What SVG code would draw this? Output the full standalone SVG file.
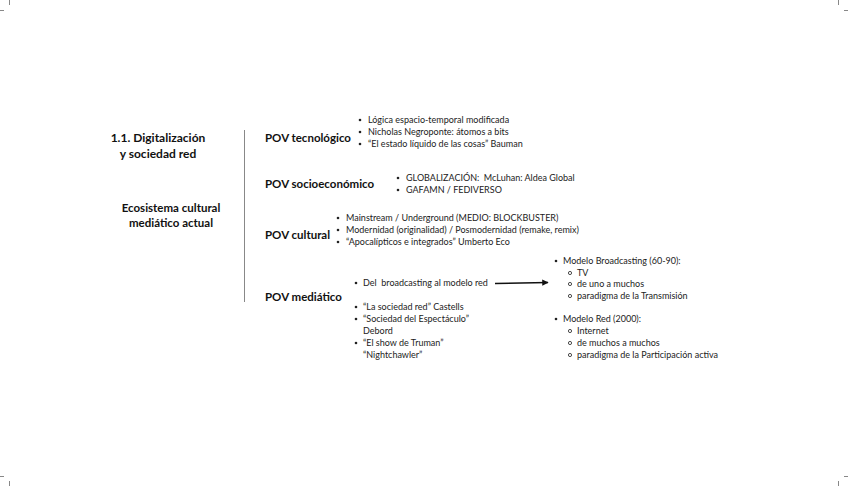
<svg xmlns="http://www.w3.org/2000/svg" width="848" height="486" viewBox="0 0 848 486">
<style>
.h{font-family:Lato,"Open Sans",sans-serif;font-weight:bold;font-size:11.5px;fill:#111}
.ti{font-size:12px}
.t{font-family:Lato,"Open Sans",sans-serif;font-size:9px;fill:#222;white-space:pre}
.crop{stroke:#888;stroke-width:1}
.dot{fill:#222}
.ring{fill:none;stroke:#222;stroke-width:0.8}
</style>
<defs>
<marker id="ah" viewBox="0 0 10 10" refX="9" refY="5" markerWidth="4" markerHeight="4" orient="auto"><path d="M0,0 L10,5 L0,10 z" fill="#111"/></marker>
</defs>
<rect width="848" height="486" fill="#fff"/>
<g id="cropmarks">
<line class="crop" x1="9.5" y1="0" x2="9.5" y2="5"/><line class="crop" x1="0" y1="10.5" x2="4" y2="10.5"/>
<line class="crop" x1="838.5" y1="0" x2="838.5" y2="5"/><line class="crop" x1="844" y1="10.5" x2="848" y2="10.5"/>
<line class="crop" x1="0" y1="476.5" x2="4" y2="476.5"/><line class="crop" x1="9.5" y1="481" x2="9.5" y2="486"/>
<line class="crop" x1="844" y1="476.5" x2="848" y2="476.5"/><line class="crop" x1="838.5" y1="481" x2="838.5" y2="486"/>
</g>
<g id="title">
<text class="h ti" x="158" y="142" text-anchor="middle">1.1. Digitalización</text>
<text class="h ti" x="158" y="158" text-anchor="middle">y sociedad red</text>
</g>
<g id="ecosistema">
<text class="h" x="171" y="212" text-anchor="middle">Ecosistema cultural</text>
<text class="h" x="171" y="227" text-anchor="middle">mediático actual</text>
</g>
<g id="connectors">
<line x1="244.5" y1="130" x2="244.5" y2="302" stroke="#888" stroke-width="1"/>
<line x1="495" y1="283.5" x2="548" y2="282.5" stroke="#111" stroke-width="1.6" marker-end="url(#ah)"/>
</g>
<g id="pov-tecnologico">
<text class="h" x="265" y="142">POV tecnológico</text>
<circle class="dot" cx="360" cy="120" r="1.3"/><text class="t" x="368" y="123">Lógica espacio-temporal modificada</text>
<circle class="dot" cx="360" cy="132" r="1.3"/><text class="t" x="368" y="135">Nicholas Negroponte: átomos a bits</text>
<circle class="dot" cx="360" cy="144" r="1.3"/><text class="t" x="368" y="147">“El estado líquido de las cosas” Bauman</text>
</g>
<g id="pov-socioeconomico">
<text class="h" x="265" y="188">POV socioeconómico</text>
<circle class="dot" cx="398" cy="178" r="1.3"/><text class="t" x="406" y="181">GLOBALIZACIÓN:  McLuhan: Aldea Global</text>
<circle class="dot" cx="398" cy="190" r="1.3"/><text class="t" x="406" y="193">GAFAMN / FEDIVERSO</text>
</g>
<g id="pov-cultural">
<text class="h" x="265" y="239">POV cultural</text>
<circle class="dot" cx="338" cy="218" r="1.3"/><text class="t" x="346" y="221">Mainstream / Underground (MEDIO: BLOCKBUSTER)</text>
<circle class="dot" cx="338" cy="230" r="1.3"/><text class="t" x="346" y="233">Modernidad (originalidad) / Posmodernidad (remake, remix)</text>
<circle class="dot" cx="338" cy="242" r="1.3"/><text class="t" x="346" y="245">“Apocalípticos e integrados” Umberto Eco</text>
</g>
<g id="pov-mediatico">
<text class="h" x="265" y="301">POV mediático</text>
<circle class="dot" cx="356" cy="283" r="1.3"/><text class="t" x="363" y="286">Del  broadcasting al modelo red</text>
<circle class="dot" cx="356" cy="307" r="1.3"/><text class="t" x="363" y="310">“La sociedad red” Castells</text>
<circle class="dot" cx="356" cy="319" r="1.3"/><text class="t" x="363" y="322">“Sociedad del Espectáculo”</text>
<text class="t" x="363" y="334">Debord</text>
<circle class="dot" cx="356" cy="343" r="1.3"/><text class="t" x="363" y="346">“El show de Truman”</text>
<text class="t" x="363" y="358">“Nightchawler”</text>
</g>
<g id="modelos">
<circle class="dot" cx="556" cy="261" r="1.3"/><text class="t" x="563" y="264">Modelo Broadcasting (60-90):</text>
<circle class="ring" cx="570" cy="273" r="1.6"/><text class="t" x="577" y="276">TV</text>
<circle class="ring" cx="570" cy="284" r="1.6"/><text class="t" x="577" y="287">de uno a muchos</text>
<circle class="ring" cx="570" cy="296" r="1.6"/><text class="t" x="577" y="299">paradigma de la Transmisión</text>
<circle class="dot" cx="556" cy="319" r="1.3"/><text class="t" x="563" y="322">Modelo Red (2000):</text>
<circle class="ring" cx="570" cy="331" r="1.6"/><text class="t" x="577" y="334">Internet</text>
<circle class="ring" cx="570" cy="343" r="1.6"/><text class="t" x="577" y="346">de muchos a muchos</text>
<circle class="ring" cx="570" cy="355" r="1.6"/><text class="t" x="577" y="358">paradigma de la Participación activa</text>
</g>
</svg>
